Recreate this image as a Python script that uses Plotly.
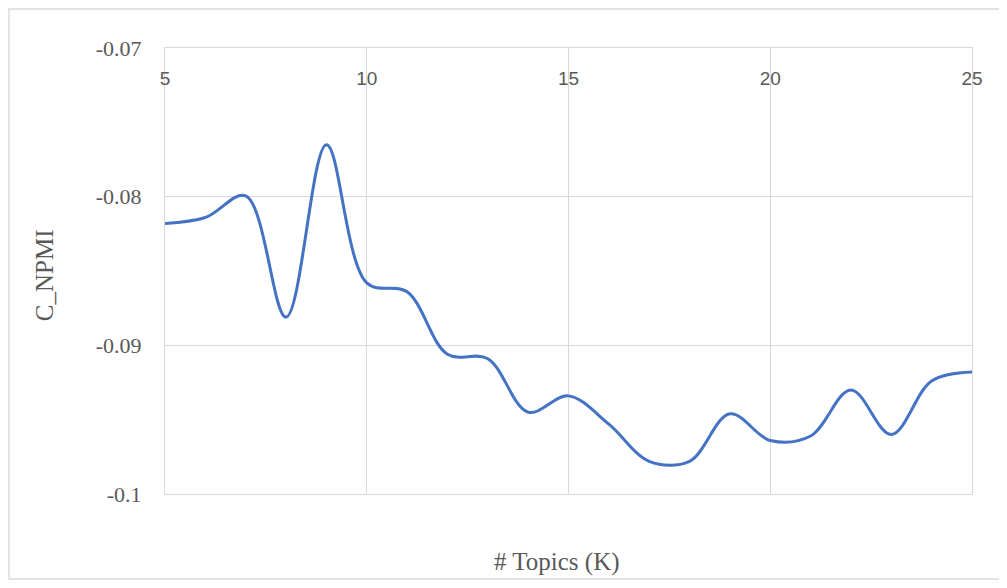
import plotly.graph_objects as go

topics = list(range(5, 26))
c_npmi = [-0.0818, -0.0814, -0.07995, -0.0881, -0.0765, -0.0858, -0.0864,
          -0.0906, -0.0909, -0.0945, -0.0934, -0.0953, -0.0978, -0.0978,
          -0.0946, -0.0964, -0.0961, -0.0930, -0.0960, -0.0924, -0.0918]

x_ticks = [5, 10, 15, 20, 25]
y_ticks = [-0.07, -0.08, -0.09, -0.1]
y_tick_text = ["-0.07", "-0.08", "-0.09", "-0.1"]

FONT = "Liberation Serif"
SANS = "Liberation Sans"
GRAY = "#595959"
GRID = "#d9d9d9"

W, H = 991, 572
L, T, R, B = 157, 40, 27, 86
PW, PH = W - L - R, H - T - B

fig = go.Figure()
fig.add_trace(go.Scatter(
    x=topics, y=c_npmi, mode="lines",
    line=dict(color="#4472C4", width=3, shape="spline", smoothing=1.0),
    showlegend=False, hoverinfo="x+y",
))

fig.update_layout(
    width=W, height=H,
    margin=dict(l=L, r=R, t=T, b=B),
    paper_bgcolor="white", plot_bgcolor="white",
    font=dict(family=FONT, color=GRAY, size=21),
    xaxis=dict(
        range=[4.99999, 25.00001], tickvals=x_ticks, side="top",
        ticklabelposition="inside", ticklabeloverflow="allow", ticks="",
        showgrid=True, gridcolor=GRID, gridwidth=1,
        zeroline=False, showline=True, linecolor=GRID, mirror=True,
        tickfont=dict(family=SANS, size=19, color=GRAY),
        ticklabelstandoff=25,
    ),
    yaxis=dict(
        range=[-0.1000001, -0.0699999], tickvals=y_ticks, ticktext=y_tick_text,
        showgrid=True, gridcolor=GRID, gridwidth=1,
        zeroline=False, showline=True, linecolor=GRID, mirror=True,
        ticks="", ticklabelstandoff=18,
        tickfont=dict(family=FONT, size=22, color=GRAY),
    ),
    annotations=[
        dict(text="C_NPMI", xref="paper", yref="paper", x=-0.149, y=0.49,
             textangle=-90, showarrow=False, xanchor="center", yanchor="middle",
             font=dict(family=FONT, size=25, color=GRAY)),
        dict(text="# Topics (K)", xref="paper", yref="paper", x=0.486, y=-0.153,
             showarrow=False, xanchor="center", yanchor="middle",
             font=dict(family=FONT, size=25, color=GRAY)),
    ],
    shapes=[
        dict(type="rect", xref="paper", yref="paper",
             x0=(1 - L) / PW, x1=(W + 5 - L) / PW,
             y0=(PH + T - (H - 1)) / PH, y1=(PH + T - 1) / PH,
             line=dict(color="#e3e3e3", width=2), fillcolor="rgba(0,0,0,0)",
             layer="below"),
    ],
)

fig.write_html("out.html")
